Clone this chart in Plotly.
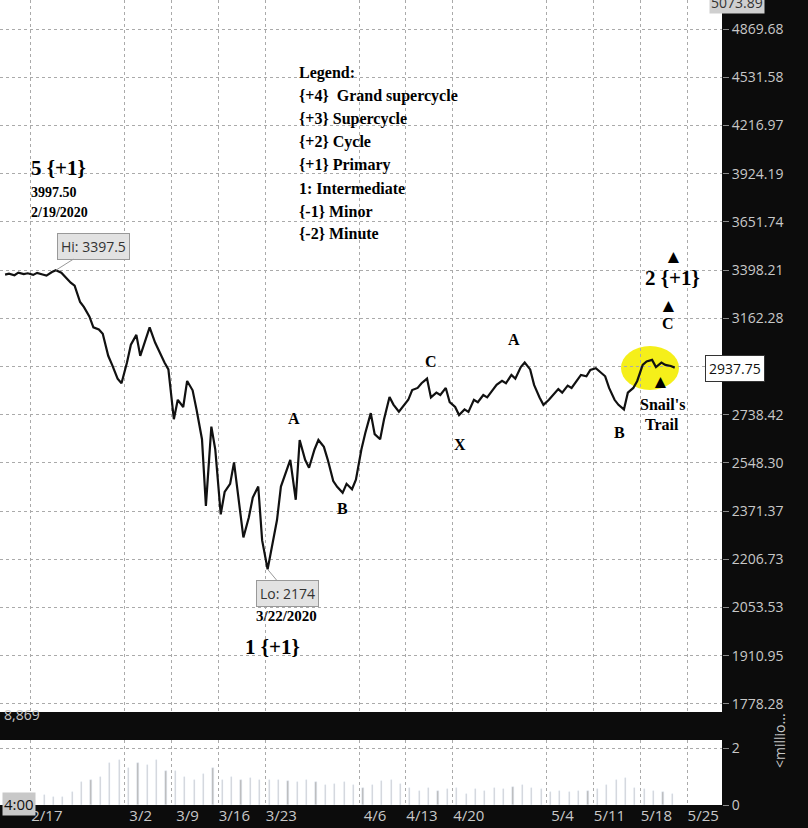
import plotly.graph_objects as go
import pandas as pd
import math

days = pd.bdate_range("2020-02-12", "2020-05-21")
am_pm = [
    (3375, 3380), (3372, 3385), (3378, 3382), (3374, 3384), (3376, 3370), (3388, 3397.5),
    (3385, 3362), (3335, 3320), (3240, 3215), (3170, 3120), (3110, 3090), (2990, 2950),
    (2890, 2870), (2960, 3040), (3085, 2990), (3060, 3120), (3050, 3010), (2960, 2930),
    (2720, 2800), (2770, 2880), (2840, 2760), (2640, 2390), (2690, 2600), (2360, 2440),
    (2470, 2550), (2400, 2280), (2350, 2420), (2460, 2270), (2174, 2240), (2340, 2460),
    (2520, 2560), (2412, 2637), (2560, 2530), (2600, 2637), (2610, 2560), (2480, 2459),
    (2437, 2470), (2450, 2485), (2600, 2665), (2745, 2660), (2640, 2720), (2812, 2780),
    (2751, 2770), (2800, 2841), (2850, 2870), (2890, 2810), (2830, 2820), (2850, 2790),
    (2770, 2737), (2760, 2750), (2800, 2790), (2820, 2810), (2840, 2863), (2880, 2870),
    (2906, 2890), (2940, 2960), (2930, 2863), (2810, 2779), (2800, 2820), (2845, 2830),
    (2860, 2850), (2880, 2906), (2900, 2928), (2935, 2920), (2900, 2850), (2800, 2779),
    (2760, 2830), (2850, 2880), (2950, 2965), (2972, 2940), (2960, 2950), (2945, 2937.75),
]
volume = [0.3, 0.35, 0.3, 0.2, 0.35, 0.3, 0.3, 0.45, 0.8, 0.9, 1.0, 1.5, 1.6, 1.3, 1.5,
          1.4, 1.6, 1.2, 1.2, 1.0, 0.9, 1.1, 1.3, 0.9, 1.0, 0.9, 0.95, 0.9, 0.9, 0.9, 0.85,
          0.8, 0.9, 0.8, 0.7, 0.75, 0.8, 0.7, 0.6, 0.7, 0.85, 0.9, 0.75, 0.6, 0.5, 0.6, 0.5,
          0.55, 0.6, 0.4, 0.55, 0.5, 0.6, 0.55, 0.65, 0.7, 0.6, 0.55, 0.45, 0.5, 0.45, 0.5,
          0.5, 0.55, 0.7, 0.9, 0.95, 0.6, 0.55, 0.5, 0.45, 0.4][:len(days)]
tick_dates = ["2020-02-17", "2020-03-02", "2020-03-09", "2020-03-16", "2020-03-23", "2020-04-06",
              "2020-04-13", "2020-04-20", "2020-05-04", "2020-05-11", "2020-05-18", "2020-05-25"]
tick_labels = ["2/17", "3/2", "3/9", "3/16", "3/23", "4/6", "4/13", "4/20", "5/4", "5/11", "5/18", "5/25"]
price_ticks = [10 ** (k / 32) for k in range(104, 119)]
legend_lines = ["Legend:", "{+4}  Grand supercycle", "{+3} Supercycle", "{+2} Cycle",
                "{+1} Primary", "1: Intermediate", "{-1} Minor", "{-2} Minute"]
hi_price, lo_price = 3397.5, 2174

xs, ys = [], []
for d, (a, b) in zip(days, am_pm):
    xs += [d + pd.Timedelta(hours=6), d + pd.Timedelta(hours=16)]
    ys += [a, b]

W, H = 808, 828
def px(x): return x / W
def py(y): return 1 - y / H

fig = go.Figure()
fig.add_trace(go.Scatter(x=xs, y=ys, mode="lines", line=dict(color="#111", width=2.2),
                         xaxis="x", yaxis="y", hoverinfo="skip"))
fig.add_trace(go.Bar(x=[d + pd.Timedelta(hours=10) for d in days], y=volume,
                     marker_color="#b8b8b8", width=3 * 3600 * 1000, xaxis="x2", yaxis="y2"))

xr = ["2020-02-11 17:00", "2020-05-28 17:00"]
common_x = dict(type="date", range=xr, rangebreaks=[dict(bounds=["sat", "mon"])],
                tickvals=tick_dates, showgrid=True, gridcolor="#aaa", griddash="dot",
                domain=[0, 722 / W], zeroline=False, showline=False, automargin=False)
fig.update_layout(
    width=W, height=H, margin=dict(l=0, r=0, t=0, b=0, autoexpand=False), showlegend=False,
    paper_bgcolor="#0c0c0c", plot_bgcolor="white", bargap=0,
    font=dict(family="Open Sans", color="#c8c8c8", size=14),
    xaxis=dict(**common_x, anchor="y", showticklabels=False),
    xaxis2=dict(**common_x, anchor="y2", ticktext=tick_labels, ticklabelshift=16,
                ticks="", tickfont=dict(size=15, color="#c8c8c8")),
    yaxis=dict(type="log", range=[3.2448, 3.7063], domain=[1 - 712 / H, 1], side="right",
               anchor="x", tickvals=price_ticks, automargin=False,
               ticktext=["" if abs(v - 2942.7) < 1 else f"{v:.2f}" for v in price_ticks],
               showgrid=True, gridcolor="#aaa", griddash="dot", ticks="outside", ticklen=6,
               tickcolor="#888", tickfont=dict(size=14, color="#c8c8c8"), zeroline=False),
    yaxis2=dict(range=[0, 2.3], domain=[(H - 805) / H, (H - 740) / H], side="right",
                anchor="x2", tickvals=[0, 2], showgrid=True, gridcolor="#aaa", griddash="dot",
                ticks="outside", ticklen=6, tickcolor="#888", zeroline=False, automargin=False),
)

fig.add_shape(type="circle", xref="paper", yref="paper", x0=px(621), x1=px(679), y0=py(390),
              y1=py(346), fillcolor="#f5ef1a", line=dict(width=0), layer="below")

serif = "Liberation Serif"
def txt(x, y, s, size=16, anchor="center", color="black"):
    fig.add_annotation(x=px(x), y=py(y), xref="paper", yref="paper", text=s, showarrow=False,
                       xanchor=anchor, yanchor="middle",
                       font=dict(family=serif, size=size, color=color, weight="bold"))

for i, line in enumerate(legend_lines):
    txt(297, 73 + i * 23, line, 16, "left")
txt(29, 168, "5 {+1}", 21, "left")
txt(29, 192, "3997.50", 14, "left")
txt(29, 212, "2/19/2020", 14, "left")
txt(286, 616, "3/22/2020", 15)
txt(272, 647, "1 {+1}", 21)
for x, y, s in [(294, 418, "A"), (342, 509, "B"), (431, 362, "C"), (460, 444, "X"),
                (514, 339, "A"), (619, 432, "B"), (668, 324, "C")]:
    txt(x, y, s, 16)
txt(672, 278, "2 {+1}", 21)
for x, y in [(673, 256), (668, 305), (660, 381)]:
    txt(x, y, "▲", 19)
txt(662, 405, "Snail's", 16)
txt(662, 424, "Trail", 16)

box = dict(showarrow=True, arrowcolor="#999", arrowwidth=1, arrowhead=0, bgcolor="#e2e2e2",
           bordercolor="#999", borderpad=3, font=dict(family="Open Sans", size=14, color="#333"))
fig.add_annotation(x=xs[11], y=math.log10(hi_price), xref="x", yref="y", text=f"Hi: {hi_price}",
                   ax=38, ay=-24, **box)
fig.add_annotation(x=xs[56], y=math.log10(lo_price), xref="x", yref="y", text=f"Lo: {lo_price}",
                   ax=20, ay=24, **box)
fig.add_annotation(x=px(765), y=py(2), xref="paper", yref="paper", text="5073.89", showarrow=False,
                   bgcolor="#cfcfcf", font=dict(size=14, color="#333"), yanchor="middle")
fig.add_annotation(x=px(765), y=py(368), xref="paper", yref="paper", text="2937.75",
                   showarrow=False, bgcolor="white", bordercolor="#333", borderpad=3,
                   font=dict(size=14, color="#111"))
fig.add_annotation(x=px(2), y=py(726), xref="paper", yref="paper", text="8,869", showarrow=False,
                   xanchor="left", font=dict(size=14, color="#c8c8c8"))
fig.add_annotation(x=px(2), y=py(816), xref="paper", yref="paper", text="4:00", showarrow=False,
                   xanchor="left", bgcolor="#c8c8c8", font=dict(size=15, color="#111"))
fig.add_annotation(x=px(791), y=py(770), xref="paper", yref="paper", text="&lt;millio...",
                   showarrow=False, textangle=-90, font=dict(size=14, color="#c8c8c8"))

fig.write_html("out.html", config={"displayModeBar": False},
               post_script="document.body.style.margin='0';")
